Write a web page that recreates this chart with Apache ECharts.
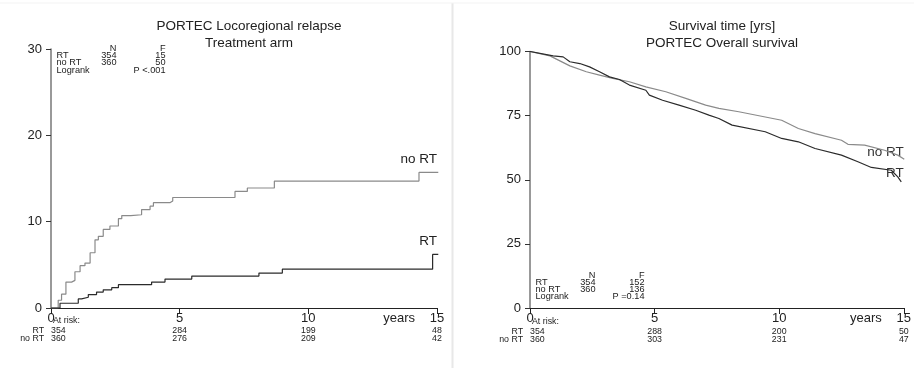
<!DOCTYPE html>
<html>
<head>
<meta charset="utf-8">
<script src="https://cdn.jsdelivr.net/npm/echarts@6/dist/echarts.min.js"></script>
<style>
  html, body { margin: 0; padding: 0; background: #fff; }
  #chart { width: 914px; height: 368px; }
</style>
</head>
<body>
<div id="chart"></div>
<script>
// Locoregional relapse (%), [years, cumulative %]
const relapseRT = [[0, 0], [0.35, 0.55], [1.06, 1.05], [1.19, 1.25], [1.45, 1.55], [1.77, 1.85], [2.03, 2.1], [2.36, 2.35], [2.62, 2.7], [3.91, 3.0], [4.43, 3.35], [5.47, 3.7], [8.08, 4.05], [8.99, 4.5], [14.83, 6.2], [15.05, 6.2]];
const relapseNoRT = [[0, 0], [0.19, 0], [0.28, 0.9], [0.41, 1.6], [0.58, 3.0], [0.8, 3.2], [0.93, 4.2], [1.13, 4.9], [1.32, 5.2], [1.52, 6.4], [1.71, 7.9], [1.84, 8.3], [2.03, 9.1], [2.29, 9.5], [2.62, 10.35], [2.75, 10.7], [3.1, 10.8], [3.52, 11.4], [3.85, 11.8], [3.98, 12.2], [4.62, 12.4], [4.73, 12.8], [7.15, 13.5], [7.63, 13.9], [8.68, 14.7], [14.3, 15.7], [15.05, 15.7]];

// Overall survival (%), [years, %]
const survivalRT = [[0, 100], [0.93, 98.3], [1.33, 97.9], [1.6, 96], [2.0, 95.3], [2.39, 94], [2.79, 92.1], [3.19, 90.1], [3.59, 89.1], [3.99, 86.9], [4.65, 84.9], [4.79, 83], [5.32, 81], [5.98, 79.1], [6.65, 77.1], [7.18, 75.2], [7.58, 73.9], [8.11, 71.3], [9.44, 68.7], [10.1, 66.1], [10.77, 64.8], [11.44, 62.2], [12.5, 59.6], [13.16, 57], [13.7, 54.8], [14.5, 53.7], [14.76, 51.1], [14.9, 49.2]];
const survivalNoRT = [[0, 100], [0.8, 98.3], [1.6, 94.4], [2.26, 92.1], [2.79, 90.8], [3.32, 89.5], [3.99, 88.2], [4.65, 86.2], [5.45, 84.3], [6.25, 81.7], [7.05, 79.1], [7.58, 77.8], [8.38, 76.5], [10.1, 73.2], [10.77, 70], [11.44, 68], [12.5, 65.4], [12.76, 63.8], [13.43, 63.5], [14.23, 61.5], [14.76, 59.6], [15.02, 58]];

// at-risk tables
const riskTimes = [0, 5, 10, 15];
const relapseRiskRT = [354, 284, 199, 48];
const relapseRiskNoRT = [360, 276, 209, 42];
const survivalRiskRT = [354, 288, 200, 50];
const survivalRiskNoRT = [360, 303, 231, 47];

// N / F summary
const groups = ['RT', 'no RT'];
const groupN = [354, 360];
const relapseF = [15, 50];
const survivalF = [152, 136];
const relapseP = 'P <.001';
const survivalP = 'P =0.14';

const FONT = '"Liberation Sans", Arial, sans-serif';
const DARK = '#2b2b2b';
const GREY = '#8a8a8a';

const chart = echarts.init(document.getElementById('chart'));

function xAxisFor(gridIndex) {
  return {
    type: 'value', gridIndex, min: 0, max: 15, interval: 5,
    axisLine: { lineStyle: { color: '#222', width: 1 } },
    axisTick: { length: 6, lineStyle: { color: '#222' } },
    axisLabel: { fontSize: 13, color: '#222', fontFamily: FONT, margin: 4 },
    splitLine: { show: false }
  };
}

function yAxisFor(gridIndex, max, interval) {
  return {
    type: 'value', gridIndex, min: 0, max, interval,
    axisLine: { show: true, lineStyle: { color: '#777', width: 1.5 } },
    axisTick: { show: true, length: 5, lineStyle: { color: '#333' } },
    axisLabel: { fontSize: 13, color: '#222', fontFamily: FONT, margin: 9 },
    splitLine: { show: false }
  };
}

function curve(name, data, color, xi, step) {
  return {
    name, type: 'line', data, xAxisIndex: xi, yAxisIndex: xi,
    step: step ? 'end' : false, symbol: 'none', silent: true,
    lineStyle: { color, width: 1.2 }
  };
}

chart.setOption({
  animation: false,
  backgroundColor: '#fff',
  title: [
    { text: 'PORTEC Locoregional relapse\nTreatment arm', left: 244, top: 13, textAlign: 'center',
      textStyle: { fontSize: 13.5, fontWeight: 'normal', color: '#222', fontFamily: FONT, lineHeight: 17 } },
    { text: 'Survival time [yrs]\nPORTEC Overall survival', left: 717, top: 13, textAlign: 'center',
      textStyle: { fontSize: 13.5, fontWeight: 'normal', color: '#222', fontFamily: FONT, lineHeight: 17 } }
  ],
  grid: [
    { left: 51, right: 477, top: 49, bottom: 60 },
    { left: 530, right: 8, top: 51.5, bottom: 60 }
  ],
  xAxis: [xAxisFor(0), xAxisFor(1)],
  yAxis: [yAxisFor(0, 30, 10), yAxisFor(1, 100, 25)],
  series: [
    curve('no RT', relapseNoRT, GREY, 0, true),
    curve('RT', relapseRT, DARK, 0, true),
    curve('no RT', survivalNoRT, GREY, 1, false),
    curve('RT', survivalRT, DARK, 1, false)
  ]
});

// extra texts placed through the axes' own scales
const px = (gi, x, y) => chart.convertToPixel({ gridIndex: gi }, [x, y]);
const g = [];
function txt(x, y, text, size, align, color) {
  g.push({ type: 'text', x, y, silent: true,
    style: { text, fontSize: size, fontFamily: FONT, fill: color || '#222', align: align || 'left', verticalAlign: 'middle' } });
}

// divider
g.push({ type: 'line', shape: { x1: 452.5, y1: 3, x2: 452.5, y2: 368 }, style: { stroke: '#e8e8e8', lineWidth: 2 } });
g.push({ type: 'line', shape: { x1: 0, y1: 3, x2: 914, y2: 3 }, style: { stroke: '#f3f3f3', lineWidth: 1 } });

function panel(gi, top, fVals, pText, riskRT, riskNoRT, riskTop) {
  const x0 = px(gi, 0, 0);
  const x15 = px(gi, 15, 0);
  // summary table
  const lx = x0[0] + 5.5;
  const nx = x0[0] + 65.5;
  const fx = x0[0] + 114.5;
  const fs = 9.2;
  txt(nx, top, 'N', fs, 'right');
  txt(fx, top, 'F', fs, 'right');
  groups.forEach((name, i) => {
    const y = top + 7.2 * (i + 1);
    txt(lx, y, name, fs);
    txt(nx, y, String(groupN[i]), fs, 'right');
    txt(fx, y, String(fVals[i]), fs, 'right');
  });
  txt(lx, top + 7.2 * 3, 'Logrank', fs);
  txt(fx, top + 7.2 * 3, pText, fs, 'right');
  // years
  txt(x15[0] - 22, x15[1] + 10, 'years', 13, 'right');
  // at-risk
  txt(x0[0] + 2, riskTop, 'At risk:', 8.8);
  [riskRT, riskNoRT].forEach((row, r) => {
    const y = riskTop + 9.7 + r * 7.4;
    txt(x0[0] - 7, y, groups[r], 8.8, 'right');
    row.forEach((v, i) => {
      const p = px(gi, riskTimes[i], 0);
      txt(p[0], y, String(v), 8.8, i === 0 ? 'left' : 'center');
    });
  });
}

panel(0, 48.5, relapseF, relapseP, relapseRiskRT, relapseRiskNoRT, 321);
panel(1, 275, survivalF, survivalP, survivalRiskRT, survivalRiskNoRT, 322);

// curve labels
const lNo = px(0, 15, 15.7);
txt(lNo[0], lNo[1] - 13, 'no RT', 13.5, 'right');
const lRT = px(0, 15, 6.2);
txt(lRT[0], lRT[1] - 13, 'RT', 13.5, 'right');
const rNo = px(1, 15, 58);
txt(rNo[0], rNo[1] - 7, 'no RT', 13.5, 'right', '#333');
const rRT = px(1, 15, 49.2);
txt(rRT[0], rRT[1] - 9, 'RT', 13.5, 'right', '#333');

chart.setOption({ graphic: g });
</script>
</body>
</html>
